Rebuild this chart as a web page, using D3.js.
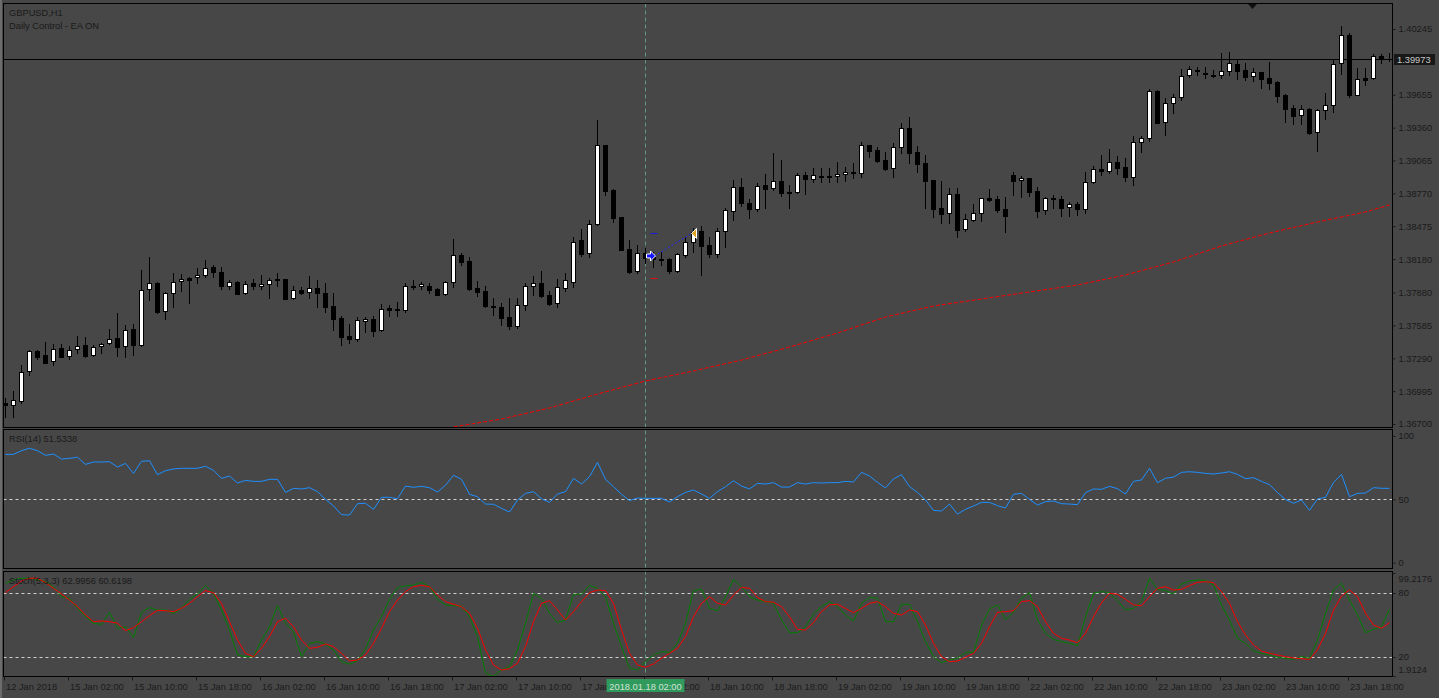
<!DOCTYPE html>
<html><head><meta charset="utf-8">
<script src="https://cdn.jsdelivr.net/npm/d3@7/dist/d3.min.js"></script>
<style>html,body{margin:0;padding:0;background:#474747;overflow:hidden}svg{display:block}</style>
</head><body><svg id="c" width="1439" height="698"></svg>
<script>
// ---------------- DATA ----------------
const opens=[1.36891,1.36868,1.36909,1.37173,1.37352,1.37317,1.37268,1.37379,1.37308,1.37373,
1.37406,1.37317,1.37397,1.37424,1.37469,1.37397,1.37550,1.37412,1.37909,1.37963,
1.37711,1.37873,1.37981,1.38008,1.38017,1.38035,1.38112,1.38061,1.37936,1.37974,
1.37873,1.37965,1.37939,1.37954,1.37999,1.38001,1.37828,1.37900,1.37882,1.37918,
1.37876,1.37759,1.37651,1.37490,1.37460,1.37624,1.37640,1.37541,1.37738,1.37729,
1.37720,1.37939,1.37939,1.37941,1.37912,1.37864,1.37972,1.38217,1.38163,1.37918,
1.37894,1.37759,1.37750,1.37660,1.37582,1.37765,1.37939,1.37965,1.37858,1.37783,
1.37923,1.37977,1.38351,1.38232,1.38492,1.39204,1.38800,1.38558,1.38268,1.38070,
1.38237,1.38210,1.38181,1.38181,1.38076,1.38219,1.38336,1.38432,1.38307,1.38223,
1.38432,1.38612,1.38830,1.38681,1.38630,1.38842,1.38818,1.38881,1.38782,1.38782,
1.38932,1.38899,1.38926,1.38926,1.38923,1.38944,1.38959,1.38950,1.39204,1.39159,
1.39069,1.38995,1.39189,1.39357,1.39141,1.39040,1.38890,1.38641,1.38591,1.38764,
1.38447,1.38534,1.38591,1.38726,1.38719,1.38630,1.38935,1.38887,1.38905,1.38791,
1.38621,1.38726,1.38719,1.38648,1.38677,1.38627,1.38869,1.38986,1.38973,1.39054,
1.39007,1.38920,1.39228,1.39264,1.39689,1.39408,1.39578,1.39632,1.39832,1.39877,
1.39850,1.39830,1.39830,1.39865,1.39931,1.39877,1.39821,1.39859,1.39808,1.39772,
1.39653,1.39539,1.39471,1.39524,1.39318,1.39515,1.39560,1.39937,1.40191,1.39655,
1.39803,1.39803,1.40003,1.39979];
const highs=[1.36931,1.36996,1.37227,1.37364,1.37364,1.37433,1.37415,1.37415,1.37403,1.37490,
1.37478,1.37406,1.37424,1.37550,1.37696,1.37591,1.37598,1.38082,1.38202,1.37972,
1.37887,1.38053,1.38046,1.38017,1.38097,1.38172,1.38127,1.38112,1.37992,1.37981,
1.37986,1.38004,1.38037,1.38008,1.38053,1.38001,1.37939,1.37930,1.38028,1.37995,
1.37963,1.37873,1.37667,1.37598,1.37663,1.37663,1.37667,1.37777,1.37768,1.37798,
1.37968,1.37992,1.37974,1.37963,1.37918,1.37983,1.38360,1.38232,1.38202,1.37983,
1.37939,1.37828,1.37783,1.37828,1.37828,1.37963,1.38028,1.38073,1.37894,1.37999,
1.38058,1.38381,1.38450,1.38531,1.39428,1.39204,1.38806,1.38558,1.38351,1.38307,
1.38280,1.38246,1.38246,1.38187,1.38237,1.38381,1.38456,1.38477,1.38381,1.38462,
1.38636,1.38890,1.38905,1.38717,1.38866,1.38941,1.39130,1.39069,1.38845,1.38950,
1.38964,1.38995,1.38995,1.38995,1.39049,1.39009,1.39040,1.39234,1.39204,1.39189,
1.39144,1.39219,1.39404,1.39455,1.39195,1.39114,1.38890,1.38881,1.38821,1.38815,
1.38582,1.38675,1.38731,1.38809,1.38746,1.38740,1.38962,1.38926,1.38905,1.38830,
1.38735,1.38755,1.38749,1.38695,1.38695,1.38964,1.39018,1.39114,1.39168,1.39105,
1.39090,1.39285,1.39285,1.39704,1.39698,1.39623,1.39662,1.39883,1.39913,1.39907,
1.39907,1.39877,1.40032,1.40041,1.39967,1.39943,1.39898,1.39859,1.39952,1.39781,
1.39662,1.39563,1.39563,1.39533,1.39524,1.39673,1.39967,1.40272,1.40207,1.39892,
1.39892,1.40021,1.40018,1.40027];
const lows=[1.36766,1.36766,1.36891,1.37142,1.37286,1.37245,1.37230,1.37299,1.37286,1.37335,
1.37304,1.37310,1.37335,1.37418,1.37310,1.37304,1.37322,1.37403,1.37813,1.37696,
1.37642,1.37747,1.37896,1.37783,1.37963,1.38017,1.38022,1.37912,1.37912,1.37869,
1.37864,1.37914,1.37909,1.37834,1.37939,1.37825,1.37825,1.37869,1.37834,1.37753,
1.37708,1.37544,1.37412,1.37430,1.37448,1.37523,1.37492,1.37535,1.37672,1.37672,
1.37705,1.37909,1.37914,1.37873,1.37855,1.37858,1.37932,1.38130,1.37903,1.37851,
1.37753,1.37678,1.37589,1.37553,1.37564,1.37723,1.37858,1.37843,1.37768,1.37753,
1.37896,1.37927,1.38210,1.38202,1.38483,1.38755,1.38516,1.38262,1.38053,1.38058,
1.38145,1.38112,1.38127,1.38053,1.38061,1.38202,1.38246,1.38037,1.38202,1.38202,
1.38291,1.38531,1.38659,1.38546,1.38612,1.38641,1.38800,1.38746,1.38641,1.38771,
1.38762,1.38875,1.38869,1.38875,1.38875,1.38884,1.38905,1.38914,1.39099,1.39049,
1.38980,1.38920,1.39135,1.39042,1.38964,1.38641,1.38561,1.38507,1.38501,1.38381,
1.38435,1.38522,1.38525,1.38704,1.38605,1.38426,1.38755,1.38740,1.38746,1.38561,
1.38585,1.38641,1.38569,1.38569,1.38576,1.38591,1.38860,1.38935,1.38955,1.38944,
1.38881,1.38845,1.39144,1.39243,1.39404,1.39294,1.39494,1.39608,1.39812,1.39832,
1.39803,1.39812,1.39803,1.39832,1.39794,1.39787,1.39778,1.39718,1.39709,1.39593,
1.39413,1.39390,1.39390,1.39303,1.39153,1.39440,1.39503,1.39841,1.39638,1.39653,
1.39743,1.39794,1.39943,1.39961];
const closes=[1.36868,1.36913,1.37169,1.37352,1.37304,1.37245,1.37376,1.37304,1.37367,1.37403,
1.37313,1.37394,1.37421,1.37466,1.37394,1.37546,1.37412,1.37905,1.37963,1.37705,
1.37873,1.37977,1.37999,1.37995,1.38037,1.38097,1.38061,1.37936,1.37972,1.37869,
1.37959,1.37936,1.37954,1.37990,1.37992,1.37825,1.37900,1.37876,1.37918,1.37873,
1.37753,1.37645,1.37484,1.37466,1.37631,1.37642,1.37537,1.37735,1.37726,1.37723,
1.37936,1.37927,1.37957,1.37903,1.37860,1.37972,1.38217,1.38157,1.37912,1.37887,
1.37762,1.37747,1.37654,1.37582,1.37765,1.37939,1.37963,1.37849,1.37777,1.37927,
1.37992,1.38336,1.38226,1.38492,1.39204,1.38794,1.38552,1.38264,1.38067,1.38237,
1.38190,1.38181,1.38175,1.38076,1.38226,1.38336,1.38426,1.38300,1.38223,1.38432,
1.38621,1.38830,1.38681,1.38627,1.38839,1.38812,1.38878,1.38771,1.38773,1.38932,
1.38902,1.38932,1.38920,1.38920,1.38941,1.38959,1.38950,1.39204,1.39153,1.39063,
1.38989,1.39189,1.39354,1.39135,1.39034,1.38884,1.38632,1.38587,1.38762,1.38444,
1.38537,1.38591,1.38726,1.38710,1.38621,1.38569,1.38884,1.38905,1.38785,1.38614,
1.38726,1.38717,1.38641,1.38672,1.38627,1.38869,1.38989,1.38973,1.39049,1.39000,
1.38920,1.39228,1.39264,1.39689,1.39404,1.39578,1.39632,1.39821,1.39883,1.39868,
1.39841,1.39823,1.39865,1.39937,1.39871,1.39817,1.39856,1.39799,1.39763,1.39647,
1.39530,1.39467,1.39524,1.39309,1.39518,1.39560,1.39928,1.40189,1.39653,1.39794,
1.39790,1.40003,1.39979,1.39973];
const rsiValues=[85.5,85.5,88.4,90.3,88.4,84.7,85.8,81.8,82.4,83.2,
77.6,79.5,79.5,79.7,75.5,78.4,70.5,80.0,80.5,69.5,
72.6,74.0,74.5,74.5,74.5,76.1,72.9,66.6,68.4,62.9,
65.0,64.2,64.2,65.8,65.8,55.5,58.7,58.2,59.2,56.1,
50.0,44.8,37.9,37.6,46.6,46.9,42.1,51.6,51.6,50.5,
60.5,59.5,60.3,59.2,55.8,61.1,69.0,65.8,54.0,52.1,
46.3,46.1,42.9,40.0,49.5,54.7,56.1,50.5,47.6,54.2,
56.1,66.6,62.1,67.9,79.2,65.8,60.0,54.0,49.0,51.0,
50.8,50.8,50.8,47.9,52.1,55.5,57.4,54.2,50.8,56.1,
60.0,64.7,60.5,58.2,62.6,62.1,63.2,59.7,59.7,63.2,
62.1,63.2,62.9,63.2,63.2,64.2,63.7,71.3,68.4,63.4,
59.0,66.1,69.5,60.0,55.5,49.5,41.3,40.8,46.3,38.4,
42.1,44.8,47.6,47.6,45.0,43.2,54.0,54.7,50.0,45.5,
48.2,48.7,46.6,46.3,45.8,55.3,58.2,57.9,60.3,58.4,
54.2,64.2,65.3,74.5,63.2,66.6,67.6,71.3,71.8,71.3,
70.5,70.0,70.8,71.8,69.7,66.3,67.1,64.2,61.6,55.3,
49.8,46.9,49.5,41.3,50.3,51.6,63.4,69.7,52.1,54.7,
55.0,59.2,58.7,58.7];
const stochMain=[89.1,92.2,93.8,93.8,92.8,90.6,85.9,76.6,75.0,65.6,
57.8,51.6,50.6,61.9,46.9,48.4,38.1,61.9,66.3,64.1,
64.1,60.9,65.6,74.1,79.1,86.9,79.7,64.1,45.3,21.9,
20.3,20.3,35.9,48.4,68.1,51.6,43.8,20.3,32.8,34.4,
31.9,26.6,15.6,13.4,16.6,27.5,45.3,57.8,74.1,85.0,
86.6,87.5,90.0,85.9,74.1,68.8,68.1,67.8,57.8,39.1,
5.0,1.9,7.8,10.9,26.6,51.6,79.7,75.0,60.9,52.2,
54.7,78.8,78.8,87.2,84.4,76.6,51.6,29.7,9.4,7.8,
15.6,21.9,25.0,24.4,32.8,51.6,82.2,83.4,65.6,63.4,
76.6,92.8,85.9,76.6,73.4,71.9,70.3,54.7,42.8,42.8,
48.4,60.3,67.2,71.9,67.2,59.4,53.8,70.3,75.9,75.0,
53.1,53.1,69.4,69.4,53.1,34.4,20.3,14.7,17.2,18.8,
24.4,24.4,50.0,65.0,68.8,55.3,61.9,75.0,80.3,54.7,
42.2,36.6,34.4,32.8,30.6,57.8,79.7,81.3,80.3,72.8,
64.1,65.6,71.9,93.8,83.4,82.2,79.1,88.4,91.3,92.2,
91.6,87.5,68.8,54.7,37.5,32.8,25.6,23.4,21.9,19.7,
18.8,17.8,20.3,18.8,35.9,60.9,82.8,89.1,73.4,59.4,
42.8,45.9,48.4,64.7];
const stochSignal=[80.3,85.9,91.3,93.8,93.8,89.7,84.4,79.1,73.4,67.2,
59.4,53.1,53.8,53.1,51.6,44.7,47.5,53.1,58.8,63.8,
63.4,62.5,65.6,70.3,76.6,82.2,80.3,70.3,53.1,35.9,
23.4,20.3,28.1,39.1,53.1,56.3,48.4,35.9,28.1,29.1,
32.2,29.7,23.4,16.3,17.2,21.9,32.8,46.9,62.5,73.4,
81.3,85.9,87.2,85.9,78.1,71.9,69.4,67.2,60.9,46.9,
26.6,12.5,7.8,9.1,14.1,29.7,53.1,70.3,72.8,64.1,
54.7,62.5,71.9,80.3,82.8,82.2,70.3,45.3,23.4,12.5,
10.3,13.4,18.8,23.4,28.1,39.1,57.8,70.3,76.6,70.3,
68.8,78.1,85.3,84.4,75.9,71.9,71.3,67.2,57.8,45.9,
45.3,52.2,62.5,68.8,69.4,65.6,61.6,65.6,70.3,71.9,
67.2,60.9,59.4,64.1,62.5,50.0,32.8,20.3,15.6,16.3,
19.7,23.4,32.8,48.4,61.9,62.5,63.4,71.9,72.8,67.2,
53.1,42.2,37.5,35.9,33.4,42.2,57.8,70.9,79.7,78.8,
74.1,68.8,68.1,76.6,84.4,85.9,82.8,83.4,86.9,90.0,
90.6,89.7,81.3,70.3,53.1,40.6,31.3,25.6,23.4,21.9,
20.3,19.1,18.4,17.8,26.6,42.2,64.1,77.2,82.8,76.6,
60.9,50.0,46.9,52.2];
const maBars=[56,62,68,74,80,86,92,98,104,110,116,122,128,134,140,146,152,158,164,170,173];
const maValues=[1.36673,1.36745,1.36844,1.36969,1.37086,1.37176,1.37274,1.37391,1.37517,1.37660,1.37759,1.37822,1.37885,1.37948,1.38037,1.38154,1.38298,1.38414,1.38513,1.38603,1.38666];
const priceTicks=[1.40245,1.39655,1.39360,1.39065,1.38770,1.38475,1.38180,1.37880,1.37585,1.37290,1.36995,1.36700];
const rsiTicks=[100,50,0];
const stochTicks=[80,20];
const stochRange=[1.9124,99.2176];
const timeTickBars=[0,8,16,24,32,40,48,56,64,72,80,88,96,104,112,120,128,136,144,152,160,168];
const timeTickLabels=["12 Jan 2018","15 Jan 02:00","15 Jan 10:00","15 Jan 18:00","16 Jan 02:00","16 Jan 10:00","16 Jan 18:00","17 Jan 02:00","17 Jan 10:00","17 Jan 18:00","18 Jan 02:00","18 Jan 10:00","18 Jan 18:00","19 Jan 02:00","19 Jan 10:00","19 Jan 18:00","22 Jan 02:00","22 Jan 10:00","22 Jan 18:00","23 Jan 02:00","23 Jan 10:00","23 Jan 18:00"];
const bidPrice=1.39973;
const cursorBar=80, cursorLabel="2018.01.18 02:00";
const tradeEntry={bar:80,price:1.38208}, tradeExit={bar:86,price:1.38410}, tradeTP=1.38414, tradeSL=1.38008;

// ---------------- DRAW ----------------
const FONT='"Liberation Sans", Arial, sans-serif';
const FS=9.3, TXT='#1a1a1a';
const svg=d3.select('#c');
const W=1439,H=698, L=3.5, R=1392.5;
const P={main:[3.5,427.5],rsi:[429.5,568.5],stoch:[571.5,676.5]};

svg.append('rect').attr('width',W).attr('height',H).attr('fill','#474747');
svg.append('rect').attr('x',0).attr('y',0).attr('width',2).attr('height',H).attr('fill','#6c6c6c');

const x=d3.scaleLinear().domain([0,173]).range([5,1389]);
const yP=d3.scaleLinear().domain([1.36700,1.40245]).range([424,29]);
const yR=d3.scaleLinear().domain([0,100]).range([562.7,436]);
const yS=d3.scaleLinear().domain([20,80]).range([657,593]);
const cx=i=>x(i)+0.5;
const crisp=v=>Math.round(v)+0.5;

const defs=svg.append('defs');
Object.entries(P).forEach(([k,[a,b]])=>{
  defs.append('clipPath').attr('id','clip-'+k).append('rect')
    .attr('x',L).attr('y',a).attr('width',R-L).attr('height',b-a);
});

// level lines
function level(y){
  svg.append('line').attr('x1',L).attr('x2',R).attr('y1',crisp(y)).attr('y2',crisp(y))
    .attr('stroke','#d2d2d2').attr('stroke-dasharray','3,3');
}
level(yR(50));
stochTicks.forEach(v=>level(yS(v)));

// crosshair
svg.append('line').attr('x1',cx(cursorBar)).attr('x2',cx(cursorBar)).attr('y1',P.main[0]).attr('y2',P.stoch[1])
  .attr('stroke','#5f9a7c').attr('stroke-dasharray','4,3');

// main panel content
const gm=svg.append('g').attr('clip-path','url(#clip-main)');
// MA
gm.append('path').datum(maBars.map((b,k)=>[b,maValues[k]]))
  .attr('d',d3.line().x(d=>cx(d[0])).y(d=>yP(d[1])))
  .attr('fill','none').attr('stroke','#ff0000').attr('stroke-width',1).attr('stroke-dasharray','4,2');
// bid line
gm.append('line').attr('x1',L).attr('x2',R).attr('y1',crisp(yP(bidPrice))).attr('y2',crisp(yP(bidPrice)))
  .attr('stroke','#000');
// candles
const idx=d3.range(opens.length);
gm.selectAll('line.wick').data(idx).join('line').attr('class','wick')
  .attr('x1',i=>cx(i)).attr('x2',i=>cx(i))
  .attr('y1',i=>Math.round(yP(highs[i]))).attr('y2',i=>Math.round(yP(lows[i]))+1)
  .attr('stroke','#000');
idx.forEach(i=>{
  const o=opens[i],c=closes[i],bull=c>o;
  const t=Math.round(yP(Math.max(o,c))), b=Math.round(yP(Math.min(o,c)));
  if(b-t<1){
    gm.append('line').attr('x1',x(i)-2).attr('x2',x(i)+3).attr('y1',t+0.5).attr('y2',t+0.5).attr('stroke','#000');
  } else {
    gm.append('rect').attr('x',x(i)-1.5).attr('y',t+0.5).attr('width',4).attr('height',b-t)
      .attr('fill',bull?'#ffffff':'#000000').attr('stroke','#000');
  }
});
// trade marks
const ex=cx(tradeEntry.bar)+5, ey=yP(tradeEntry.price);
const xx=cx(tradeExit.bar)+1, xy=yP(tradeExit.price);
gm.append('line').attr('x1',ex+4).attr('y1',ey).attr('x2',xx-3).attr('y2',xy)
  .attr('stroke','#2424ff').attr('stroke-dasharray','2,2');
gm.append('line').attr('x1',ex).attr('x2',ex+7).attr('y1',crisp(yP(tradeTP))).attr('y2',crisp(yP(tradeTP))).attr('stroke','#1818e0');
gm.append('line').attr('x1',ex).attr('x2',ex+7).attr('y1',crisp(yP(tradeSL))).attr('y2',crisp(yP(tradeSL))).attr('stroke','#e01010');
gm.append('path').attr('d',`M${ex-4},${ey-2}L${ex},${ey-2}L${ex},${ey-5}L${ex+5},${ey}L${ex},${ey+5}L${ex},${ey+2}L${ex-4},${ey+2}Z`)
  .attr('fill','#1414ff').attr('stroke','#ffffff').attr('stroke-width',1);
gm.append('path').attr('d',`M${xx-3},${xy}L${xx+2},${xy-5}L${xx+2},${xy+5}Z`)
  .attr('fill','#e0a020').attr('stroke','#ffffff').attr('stroke-width',1);
// chart shift marker
svg.append('path').attr('d','M1248,4L1257,4L1252.5,9Z').attr('fill','#101010');

// RSI
svg.append('g').attr('clip-path','url(#clip-rsi)').append('path').datum(rsiValues)
  .attr('d',d3.line().x((d,i)=>cx(i)).y(d=>yR(d)))
  .attr('fill','none').attr('stroke','#1e90ff').attr('stroke-width',1);

// Stochastic
const gs=svg.append('g').attr('clip-path','url(#clip-stoch)');
gs.append('path').datum(stochMain).attr('d',d3.line().x((d,i)=>cx(i)).y(d=>yS(d)))
  .attr('fill','none').attr('stroke','#008000').attr('stroke-width',1);
gs.append('path').datum(stochSignal).attr('d',d3.line().x((d,i)=>cx(i)).y(d=>yS(d)))
  .attr('fill','none').attr('stroke','#ff0000').attr('stroke-width',1);

// panel borders
Object.values(P).forEach(([a,b])=>{
  svg.append('rect').attr('x',L).attr('y',a).attr('width',R-L).attr('height',b-a)
    .attr('fill','none').attr('stroke','#000');
});

// right axes
function styleAxis(g){
  g.attr('font-family',FONT).attr('font-size',FS);
  g.select('.domain').remove();
  g.selectAll('line').attr('stroke',TXT);
  g.selectAll('text').attr('fill',TXT);
}
svg.append('g').attr('transform',`translate(${R},0)`)
  .call(d3.axisRight(yP).tickValues(priceTicks).tickSize(3).tickPadding(3).tickFormat(d3.format('.5f'))).call(styleAxis);
svg.append('g').attr('transform',`translate(${R},0)`)
  .call(d3.axisRight(yR).tickValues(rsiTicks).tickSize(3).tickPadding(3).tickFormat(d3.format('d'))).call(styleAxis);
svg.append('g').attr('transform',`translate(${R},0)`)
  .call(d3.axisRight(yS).tickValues(stochTicks).tickSize(3).tickPadding(3).tickFormat(d3.format('d'))).call(styleAxis);
// stoch range labels
svg.append('text').attr('x',R+6).attr('y',yS(stochRange[1])+9).text(String(stochRange[1]))
  .attr('font-family',FONT).attr('font-size',FS).attr('fill',TXT);
svg.append('text').attr('x',R+6).attr('y',yS(stochRange[0])-3).text(String(stochRange[0]))
  .attr('font-family',FONT).attr('font-size',FS).attr('fill',TXT);
[yS(stochRange[1]),yS(stochRange[0])].forEach(v=>{
  svg.append('line').attr('x1',R).attr('x2',R+3).attr('y1',crisp(v)).attr('y2',crisp(v)).attr('stroke',TXT);
});

// bid label
const by=yP(bidPrice);
svg.append('rect').attr('x',1394).attr('y',Math.round(by)-5).attr('width',41).attr('height',11).attr('fill','#181818');
svg.append('text').attr('x',1397).attr('y',Math.round(by)+3.5).text(d3.format('.5f')(bidPrice))
  .attr('font-family',FONT).attr('font-size',FS).attr('fill','#c8c8c8');

// time axis
const gt=svg.append('g').attr('transform',`translate(-1,${P.stoch[1]})`)
  .call(d3.axisBottom(x).tickValues(timeTickBars).tickSize(4).tickPadding(2.5).tickFormat((d,k)=>timeTickLabels[k]))
  .call(styleAxis);
gt.selectAll('text').attr('text-anchor','start').attr('x',1.5);

// cursor date label
const cX=cx(cursorBar);
svg.append('rect').attr('x',cX-39).attr('y',679).attr('width',78).attr('height',13).attr('fill','#2f9a5c');
svg.append('text').attr('x',cX).attr('y',689.5).attr('text-anchor','middle').text(cursorLabel)
  .attr('font-family',FONT).attr('font-size',FS).attr('fill','#d4e4d8');

// titles
function label(t,xp,yp){svg.append('text').attr('x',xp).attr('y',yp).text(t)
  .attr('font-family',FONT).attr('font-size',FS).attr('fill',TXT);}
label('GBPUSD,H1',9,16);
label('Daily Control - EA ON',9,28.5);
label('RSI(14) 51.5338',9,442);
label('Stoch(5,3,3) 62.9956 60.6198',9,584);
</script></body></html>
